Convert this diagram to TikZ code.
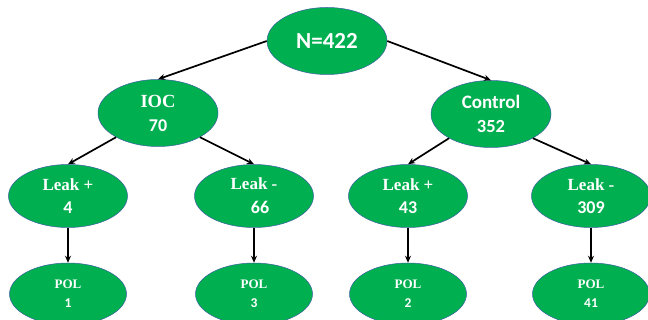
\documentclass[tikz,border=0pt]{standalone}
\usepackage{fontspec}
\setmainfont{Liberation Serif}
\newfontfamily\calib{Carlito}
\usetikzlibrary{arrows.meta,shapes.geometric}
\definecolor{nodegreen}{HTML}{00B050}
\definecolor{edgeblue}{HTML}{3A5FA0}
\newcommand{\srf}[2]{{\bfseries\fontsize{#1}{#1}\selectfont #2}}
\newcommand{\snf}[2]{{\calib\bfseries\fontsize{#1}{#1}\selectfont #2}}
\begin{document}
\begin{tikzpicture}[x=1pt,y=-1pt,
  oval/.style={ellipse, fill=nodegreen, draw=edgeblue, line width=0.5pt, inner sep=0pt, text=white, align=center},
  big/.style={oval, minimum width=120pt, minimum height=67pt, font=\fontsize{18}{24}\selectfont},
  mid/.style={oval, minimum width=119pt, minimum height=63pt, font=\fontsize{18}{23}\selectfont},
  pol/.style={oval, minimum width=117pt, minimum height=62pt, font=\fontsize{13}{19}\selectfont},
  conn/.style={-{Stealth[length=7pt,width=6pt]}, line width=1.7pt, black}]
\clip (0,0) rectangle (648,320);
\useasboundingbox (0,0) rectangle (648,320);
\node[big] (root) at (327,41) {\snf{23}{N=422}};
\node[big] (ioc) at (158,113) {\srf{18.5}{IOC}\\\snf{18}{70}};
\node[big] (ctl) at (491,114) {\snf{19}{Control}\\\snf{18.5}{352}};
\node[mid] (l1) at (68,196) {\srf{17}{Leak +}\\\snf{18}{4}};
\node[mid] (l2) at (254,196) {\srf{17}{Leak -}\\[1pt]\snf{18}{\hspace*{12pt}66}};
\node[mid] (l3) at (408,196) {\srf{17}{Leak +}\\\snf{18}{43}};
\node[mid] (l4) at (591,196) {\srf{17}{Leak -}\\\snf{18}{309}};
\node[pol] (p1) at (68,294) {\srf{13}{POL}\\\snf{13.5}{1}};
\node[pol] (p2) at (254,294) {\srf{13}{POL}\\\snf{13.5}{3}};
\node[pol] (p3) at (408,294) {\srf{13}{POL}\\\snf{13.5}{2}};
\node[pol] (p4) at (591,294) {\srf{13}{POL}\\\snf{13.5}{41}};
\draw[conn] (root.west) -- (ioc.north);
\draw[conn] (root.east) -- (ctl.north);
\draw[conn] (ioc.210) -- (l1.north);
\draw[conn] (ioc.330) -- (l2.north);
\draw[conn] (ctl.210) -- (l3.north);
\draw[conn] (ctl.330) -- (l4.north);
\draw[conn] (l1.south) -- (p1.north);
\draw[conn] (l2.south) -- (p2.north);
\draw[conn] (l3.south) -- (p3.north);
\draw[conn] (l4.south) -- (p4.north);
\end{tikzpicture}
\end{document}
